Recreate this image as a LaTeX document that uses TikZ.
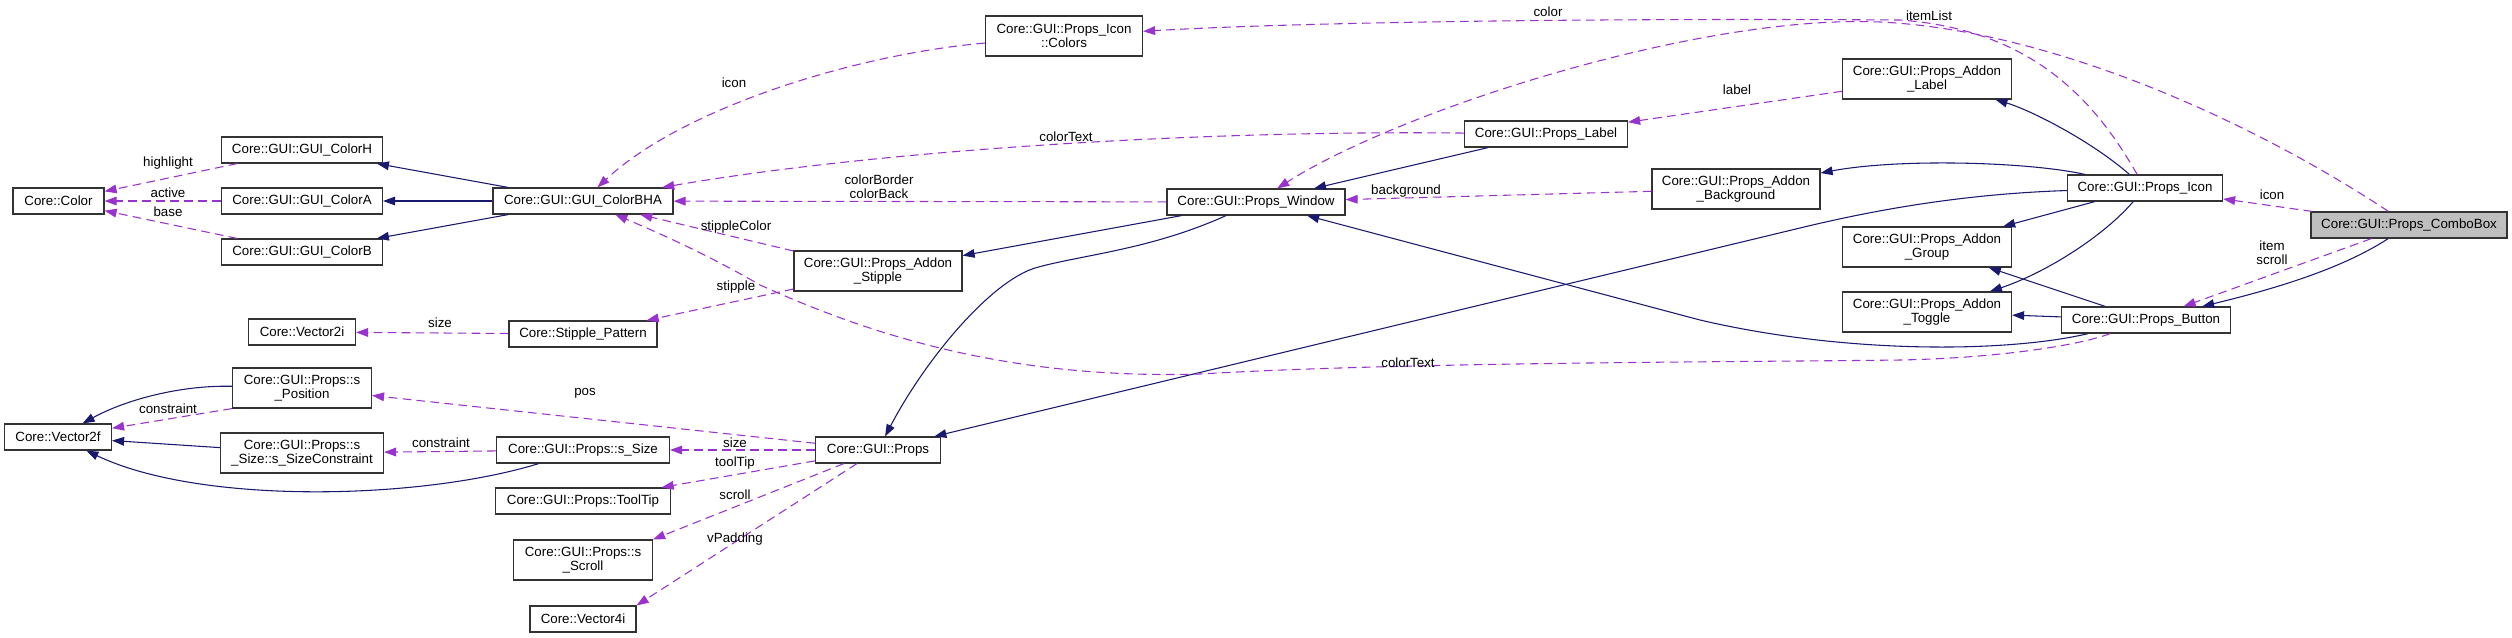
\documentclass[tikz,border=0pt]{standalone}
\usepackage{fontspec}
\setmainfont{Liberation Sans}
\usetikzlibrary{arrows.meta}
\definecolor{inhcol}{RGB}{25,25,112}
\definecolor{usecol}{RGB}{154,50,205}
\definecolor{selcol}{RGB}{191,191,191}

\begin{document}
\begin{tikzpicture}[x=0.75pt,y=-0.75pt,>={Triangle[length=9pt,width=6.5pt]},
  cls/.style={draw=black!80,line width=0.9pt,fill=white,inner sep=0pt,minimum height=19.5pt,align=center,font=\fontsize{10}{10.5}\selectfont},
  tall/.style={minimum height=30pt},
  wd/.style={minimum width=#1*0.75pt},
  inh/.style={->,color=inhcol,line width=0.8pt},
  member/.style={->,color=usecol,line width=0.8pt,dash pattern=on 6.5pt off 4pt},
  lbl/.style={font=\fontsize{10}{10.5}\selectfont,inner sep=0pt,align=center,text=black}]
\fill[white] (0,0) rectangle (2512,637);
\useasboundingbox (0,0) rectangle (2512,637);

% colours
\node[cls,wd=91] (color) at (58.5,201) {Core::Color};
\node[cls,wd=161] (colorH) at (302,150) {Core::GUI::GUI\_ColorH};
\node[cls,wd=161] (colorA) at (302,201) {Core::GUI::GUI\_ColorA};
\node[cls,wd=161] (colorB) at (302,252) {Core::GUI::GUI\_ColorB};
\node[cls,wd=180] (colorBHA) at (583,201) {Core::GUI::GUI\_ColorBHA};
\node[cls,wd=157,tall] (iconColors) at (1064,36) {Core::GUI::Props\_Icon\\::Colors};

% vectors and props members
\node[cls,wd=107] (vec2i) at (302,332) {Core::Vector2i};
\node[cls,wd=148] (stipplePat) at (583,334) {Core::Stipple\_Pattern};
\node[cls,wd=139,tall] (position) at (302,388) {Core::GUI::Props::s\\\_Position};
\node[cls,wd=107] (vec2f) at (58,437) {Core::Vector2f};
\node[cls,wd=163,tall] (sizeCons) at (302,453) {Core::GUI::Props::s\\\_Size::s\_SizeConstraint};
\node[cls,wd=173] (sSize) at (583,450) {Core::GUI::Props::s\_Size};
\node[cls,wd=175] (toolTip) at (583,501) {Core::GUI::Props::ToolTip};
\node[cls,wd=139,tall] (sScroll) at (583,560) {Core::GUI::Props::s\\\_Scroll};
\node[cls,wd=106] (vec4i) at (583,619) {Core::Vector4i};
\node[cls,wd=125] (props) at (878,450) {Core::GUI::Props};

% props classes
\node[cls,wd=178] (window) at (1256,202) {Core::GUI::Props\_Window};
\node[cls,wd=168,tall] (addonStipple) at (878,271) {Core::GUI::Props\_Addon\\\_Stipple};
\node[cls,wd=163] (label) at (1546,134) {Core::GUI::Props\_Label};
\node[cls,wd=169,tall] (addonLabel) at (1927,79) {Core::GUI::Props\_Addon\\\_Label};
\node[cls,wd=168,tall] (addonBack) at (1736,189) {Core::GUI::Props\_Addon\\\_Background};
\node[cls,wd=169,tall] (addonGroup) at (1927,247) {Core::GUI::Props\_Addon\\\_Group};
\node[cls,wd=169,tall] (addonToggle) at (1927,312) {Core::GUI::Props\_Addon\\\_Toggle};
\node[cls,wd=155] (icon) at (2145,188) {Core::GUI::Props\_Icon};
\node[cls,wd=169] (button) at (2146,320) {Core::GUI::Props\_Button};
\node[cls,wd=196,fill=selcol] (comboBox) at (2409,225) {Core::GUI::Props\_ComboBox};

% inheritance
\draw[inh] (colorBHA) -- (colorH);
\draw[inh] (colorBHA) -- (colorA);
\draw[inh] (colorBHA) -- (colorB);
\draw[inh] (window) -- (addonStipple);
\draw[inh] (window) .. controls (1150,250) and (1080,255) .. (1035,268) .. controls (990,282) and (925,360) .. (props);
\draw[inh] (label) -- (window);
\draw[inh] (icon) .. controls (2090,140) and (2030,110) .. (addonLabel);
\draw[inh] (icon) .. controls (2030,162) and (1900,158) .. (addonBack);
\draw[inh] (icon) .. controls (1960,194) and (1870,211) .. (1800,228) -- (props);
\draw[inh] (icon) -- (addonGroup);
\draw[inh] (icon) .. controls (2100,240) and (2040,275) .. (addonToggle);
\draw[inh] (button) -- (addonToggle);
\draw[inh] (button) -- (addonGroup);
\draw[inh] (button) .. controls (2010,352) and (1850,355) .. (1700,320) -- (window);
\draw[inh] (comboBox) .. controls (2340,270) and (2270,290) .. (button);
\draw[inh] (position) .. controls (180,385) and (125,400) .. (vec2f);
\draw[inh] (sizeCons) -- (vec2f);
\draw[inh] (sSize) .. controls (420,500) and (200,505) .. (vec2f);

% members
\draw[member] (colorH) -- (color) node[lbl] at (168,163) {highlight};
\draw[member] (colorA) -- (color) node[lbl] at (168,193) {active};
\draw[member] (colorB) -- (color) node[lbl] at (168,212) {base};
\draw[member] (iconColors) .. controls (850,55) and (680,110) .. (colorBHA) node[lbl] at (734,83) {icon};
\draw[member] (label) .. controls (1200,130) and (880,150) .. (colorBHA) node[lbl] at (1066,137) {colorText};
\draw[member] (window) -- (colorBHA) node[lbl] at (879,187) {colorBorder\\colorBack};
\draw[member] (addonStipple) -- (colorBHA) node[lbl] at (736,227) {stippleColor};
\draw[member] (addonStipple) -- (stipplePat) node[lbl] at (736,287) {stipple};
\draw[member] (stipplePat) -- (vec2i) node[lbl] at (440,323) {size};
\draw[member] (button) .. controls (2080,345) and (2000,358) .. (1900,360) .. controls (1750,362) and (1400,362) .. (1200,374) .. controls (1000,380) and (860,330) .. (760,285) .. controls (700,250) and (640,225) .. (colorBHA) node[lbl] at (1408,363) {colorText};
\draw[member] (position.south west) -- (vec2f) node[lbl] at (168,409) {constraint};
\draw[member] (sSize) -- (sizeCons) node[lbl] at (441,443) {constraint};
\draw[member] (props) -- (position) node[lbl] at (585,393) {pos};
\draw[member] (props) -- (sSize) node[lbl] at (735,443) {size};
\draw[member] (props) -- (toolTip) node[lbl] at (735,463) {toolTip};
\draw[member] (props) -- (sScroll.north east) node[lbl] at (735,495) {scroll};
\draw[member] (props) -- (vec4i.north east) node[lbl] at (735,539) {vPadding};
\draw[member] (icon) .. controls (2100,110) and (2040,30) .. (1900,20) .. controls (1600,18) and (1300,22) .. (iconColors) node[lbl] at (1548,12) {color};
\draw[member] (comboBox) .. controls (2250,120) and (2050,30) .. (1880,22) .. controls (1700,14) and (1400,110) .. (window) node[lbl] at (1929,16) {itemList};
\draw[member] (addonBack) -- (window) node[lbl] at (1406,191) {background};
\draw[member] (addonLabel) -- (label) node[lbl] at (1737,90) {label};
\draw[member] (comboBox) -- (icon) node[lbl] at (2272,195) {icon};
\draw[member] (comboBox) -- (button) node[lbl] at (2272,253) {item\\scroll};
\end{tikzpicture}
\end{document}
